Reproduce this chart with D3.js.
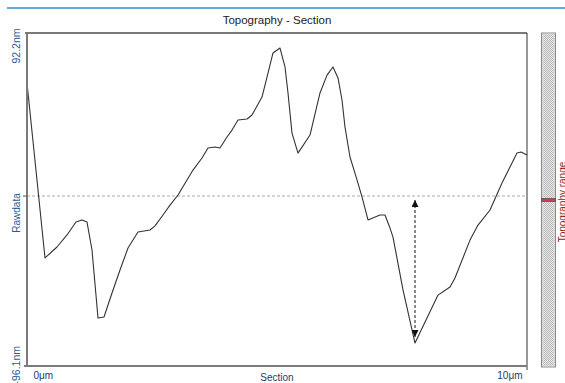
<!DOCTYPE html>
<html>
<head>
<meta charset="utf-8">
<script src="https://cdn.jsdelivr.net/npm/d3@7/dist/d3.min.js"></script>
<style>
  html, body { margin: 0; padding: 0; background: #fff; }
  svg { display: block; font-family: "Liberation Sans", Arial, sans-serif; }
</style>
</head>
<body>
<svg id="chart" width="565" height="383"></svg>
<script>
// Section profile: position along the cut (μm) and height (nm)
const sectionX = [0, 0.36, 0.60, 0.80, 0.98, 1.10, 1.20, 1.30, 1.42, 1.54, 1.70, 1.86, 2.02, 2.22, 2.46, 2.56,
  2.72, 2.86, 3.02, 3.20, 3.32, 3.50, 3.62, 3.76, 3.86, 4.00, 4.10, 4.22, 4.40, 4.50, 4.70, 4.80, 4.92,
  5.06, 5.16, 5.22, 5.30, 5.42, 5.66, 5.86, 6.00, 6.12, 6.22, 6.30, 6.36, 6.46, 6.60, 6.70, 6.82, 7.06,
  7.16, 7.26, 7.32, 7.52, 7.76, 8.22, 8.46, 8.56, 8.86, 9.02, 9.26, 9.50, 9.70, 9.80, 9.88, 10.0];
const sectionZ = [63.9, -35.0, -28.8, -22.0, -14.7, -13.5, -14.7, -30.5, -69.0, -68.4, -54.8, -41.8, -29.4, -20.3, -19.2, -16.9,
  -10.7, -5.1, 0.6, 9.1, 14.7, 21.5, 27.2, 27.7, 27.2, 33.4, 37.3, 43.0, 43.6, 45.8, 56.0, 67.3, 80.9,
  83.7, 73.0, 58.3, 35.6, 24.3, 34.5, 58.3, 68.4, 73.0, 66.8, 54.3, 39.0, 22.1, 9.1, -0.5, -13.5, -10.7,
  -10.7, -18.1, -23.2, -53.1, -83.1, -56.0, -51.4, -46.3, -24.9, -16.4, -7.9, 7.4, 18.7, 24.3, 24.9, 23.2];

// Axis extents and labels
const xExtent = [0, 10];
const zExtent = [-96.1, 92.2];
const xTickValues = [0, 10];
const zTickValues = [-96.1, 92.2];
const referenceLevel = 0;     // dashed reference line
const cursorLevel = -2.2;     // marker on the range bar
const titleText = "Topography - Section";
const xAxisTitle = "Section";
const yAxisTitle = "Rawdata";
const rangeTitle = "Topography range";

const svg = d3.select("#chart");
const plotLeft = 27, plotRight = 527, plotTop = 33, plotBottom = 366;

const x = d3.scaleLinear().domain(xExtent).range([plotLeft, plotRight]);
const y = d3.scaleLinear().domain(zExtent).range([plotBottom, plotTop]);

// Header rule
svg.append("line")
  .attr("x1", 7).attr("x2", 565).attr("y1", 8).attr("y2", 8)
  .attr("stroke", "#2a90d6").attr("stroke-width", 1.5);

// Title
svg.append("text")
  .attr("x", 277).attr("y", 24)
  .attr("text-anchor", "middle")
  .attr("font-size", 11.5).attr("fill", "#222")
  .text(titleText);

// Plot frame: top and right edges
svg.append("line")
  .attr("x1", plotLeft - 2).attr("x2", plotRight).attr("y1", plotTop).attr("y2", plotTop)
  .attr("stroke", "#7a7a7a").attr("stroke-width", 2);
svg.append("line")
  .attr("x1", plotRight).attr("x2", plotRight).attr("y1", plotTop).attr("y2", plotBottom + 4)
  .attr("stroke", "#333").attr("stroke-width", 1);

// Reference line
svg.append("line")
  .attr("x1", plotLeft).attr("x2", plotRight)
  .attr("y1", y(referenceLevel)).attr("y2", y(referenceLevel))
  .attr("stroke", "#aaa").attr("stroke-width", 1)
  .attr("stroke-dasharray", "3,2");

// Profile line
const line = d3.line()
  .x((d, i) => x(sectionX[i]))
  .y(d => y(d));
svg.append("path")
  .datum(sectionZ)
  .attr("d", line)
  .attr("fill", "none")
  .attr("stroke", "#333")
  .attr("stroke-width", 1.1)
  .attr("stroke-linejoin", "round");

// Height-difference arrow between reference level and the deepest point
const minZ = d3.min(sectionZ);
const minX = sectionX[sectionZ.indexOf(minZ)];
const defs = svg.append("defs");
defs.append("marker")
  .attr("id", "arrowhead")
  .attr("viewBox", "0 0 10 10")
  .attr("refX", 10).attr("refY", 5)
  .attr("markerWidth", 9).attr("markerHeight", 7)
  .attr("markerUnits", "userSpaceOnUse")
  .attr("orient", "auto-start-reverse")
  .append("path")
  .attr("d", "M0,0L10,5L0,10Z")
  .attr("fill", "#111");
svg.append("line")
  .attr("x1", x(minX)).attr("x2", x(minX))
  .attr("y1", y(referenceLevel) + 4).attr("y2", y(minZ) - 6)
  .attr("stroke", "#111").attr("stroke-width", 1)
  .attr("stroke-dasharray", "3,2")
  .attr("marker-start", "url(#arrowhead)")
  .attr("marker-end", "url(#arrowhead)");

// Bottom axis
const xAxis = d3.axisBottom(x)
  .tickValues(xTickValues)
  .tickSize(0)
  .tickSizeOuter(0)
  .tickFormat(d => d + "μm");
const gx = svg.append("g")
  .attr("transform", `translate(0,${plotBottom})`)
  .call(xAxis);
gx.select(".domain").attr("stroke", "#7a7a7a").attr("stroke-width", 2)
  .attr("d", `M${plotLeft - 3},0H${plotRight}`);
gx.selectAll(".tick text")
  .attr("font-family", "Liberation Sans, Arial, sans-serif")
  .attr("font-size", 10).attr("fill", "#1f3a6b")
  .attr("dy", 0).attr("y", 13)
  .attr("text-anchor", (d, i) => i === 0 ? "start" : "end")
  .attr("dx", (d, i) => i === 0 ? 6 : -5);

svg.append("text")
  .attr("x", 277).attr("y", 381)
  .attr("text-anchor", "middle")
  .attr("font-size", 10).attr("fill", "#1f3a6b")
  .text(xAxisTitle);

// Left axis
const yAxis = d3.axisLeft(y)
  .tickValues(zTickValues)
  .tickSize(0)
  .tickSizeOuter(0)
  .tickFormat(d => d + "nm");
const gy = svg.append("g")
  .attr("transform", `translate(${plotLeft},0)`)
  .call(yAxis);
gy.select(".domain").attr("stroke", "#7a7a7a").attr("stroke-width", 2)
  .attr("d", `M0,${plotTop}V${plotBottom + 1}`);
gy.selectAll(".tick text")
  .attr("font-family", "Liberation Sans, Arial, sans-serif")
  .attr("font-size", 10.5).attr("fill", "#2a5a9a")
  .attr("x", null).attr("dy", null)
  .attr("text-anchor", d => d > 0 ? "end" : "start")
  .attr("transform", d => d > 0
    ? `translate(-7,-5) rotate(-90)`
    : `translate(-7,18) rotate(-90)`);
// small tick at the reference level
gy.append("line")
  .attr("x1", -4).attr("x2", 0)
  .attr("y1", y(referenceLevel)).attr("y2", y(referenceLevel))
  .attr("stroke", "#555");

svg.append("text")
  .attr("transform", `translate(20,213) rotate(-90)`)
  .attr("text-anchor", "middle")
  .attr("font-size", 10).attr("fill", "#2a5a9a")
  .text(yAxisTitle);

// Range bar with dithered fill
const pattern = defs.append("pattern")
  .attr("id", "dither")
  .attr("width", 2).attr("height", 2)
  .attr("patternUnits", "userSpaceOnUse");
pattern.append("rect").attr("width", 2).attr("height", 2).attr("fill", "#ececec");
pattern.append("rect").attr("width", 1).attr("height", 1).attr("fill", "#b4b4b4");
pattern.append("rect").attr("x", 1).attr("y", 1).attr("width", 1).attr("height", 1).attr("fill", "#b4b4b4");

const barX = 541.5, barW = 14;
svg.append("rect")
  .attr("x", barX).attr("y", y(zExtent[1]))
  .attr("width", barW).attr("height", y(zExtent[0]) - y(zExtent[1]) + 1)
  .attr("fill", "url(#dither)")
  .attr("stroke", "#8a8a8a").attr("stroke-width", 1);
svg.append("rect")
  .attr("x", barX + 1.5).attr("y", y(zExtent[1]) + 1)
  .attr("width", barW - 3).attr("height", y(zExtent[0]) - y(zExtent[1]) - 1)
  .attr("fill", "none")
  .attr("stroke", "#dcdcdc").attr("stroke-width", 1);
svg.append("rect")
  .attr("x", barX).attr("y", y(cursorLevel) - 1.5)
  .attr("width", barW).attr("height", 3)
  .attr("fill", "#d23a4e")
  .attr("stroke", "#555").attr("stroke-width", 0.8);

svg.append("text")
  .attr("transform", `translate(566,202) rotate(-90)`)
  .attr("text-anchor", "middle")
  .attr("font-size", 10).attr("fill", "#8a1f1f")
  .text(rangeTitle);
</script>
</body>
</html>
